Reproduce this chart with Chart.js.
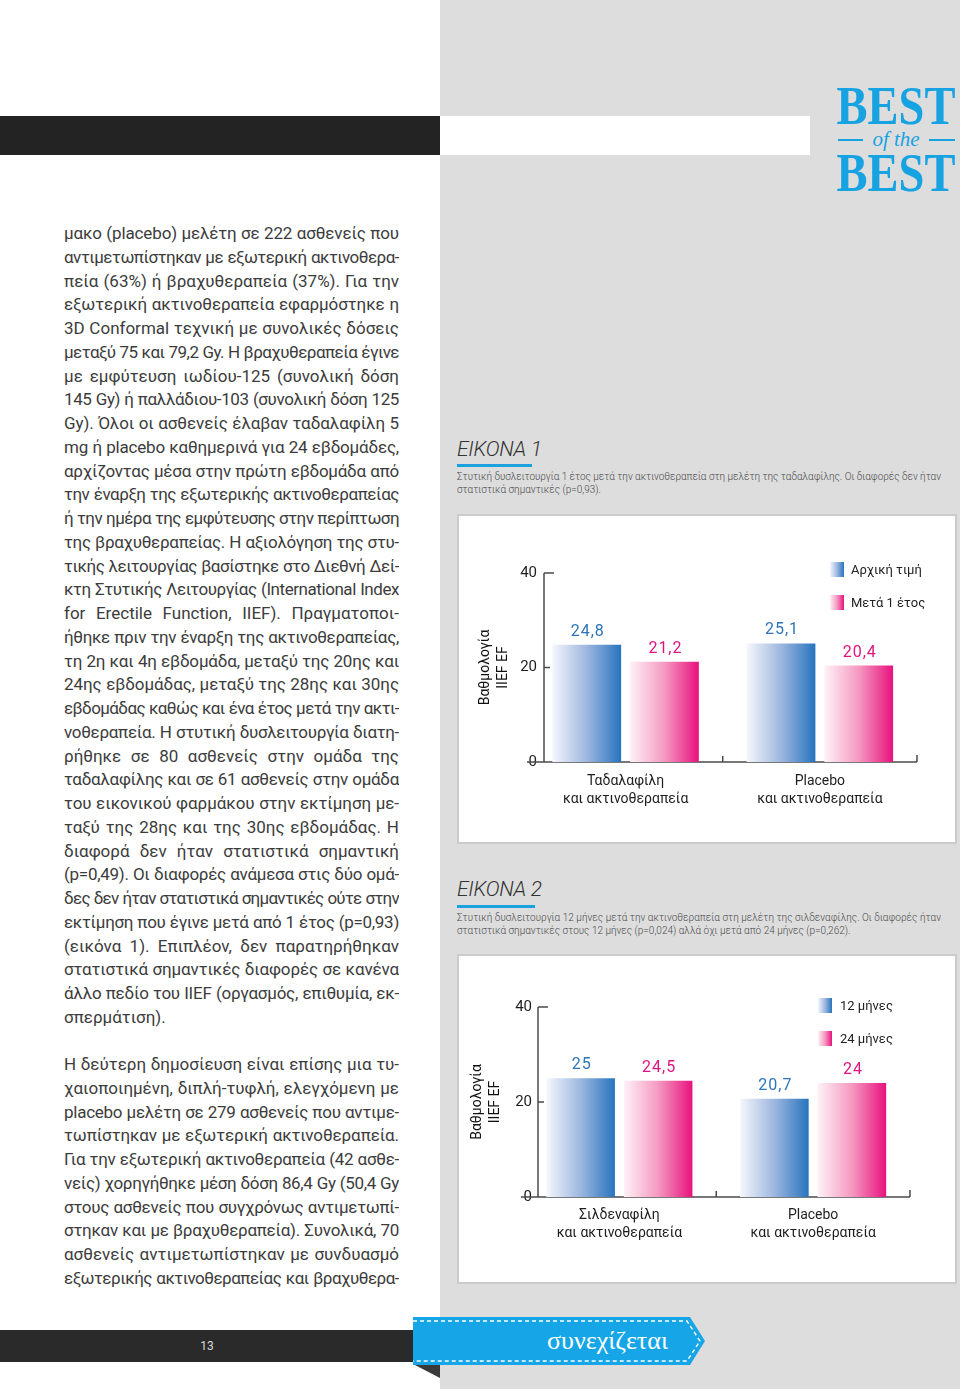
<!DOCTYPE html>
<html lang="el">
<head>
<meta charset="utf-8">
<title>Best of the Best – σελίδα 13</title>
<script src="https://cdn.jsdelivr.net/npm/chart.js@4.4.1/dist/chart.umd.min.js"></script>
<style>
  html, body { margin: 0; padding: 0; }
  body { width: 960px; height: 1389px; position: relative; overflow: hidden; background: #fff;
         font-family: Roboto, "Noto Sans", sans-serif; color: #3c3c3c; }
  .abs { position: absolute; }
  #greyCol { left: 440px; top: 0; width: 520px; height: 1389px; background: #dddddd; }
  #topDark { left: 0; top: 116px; width: 440px; height: 39px; background: #232323; }
  #topWhite { left: 440px; top: 116px; width: 370px; height: 39px; background: #fff; }

  .best { font-family: "Liberation Serif", "DejaVu Serif", serif; font-weight: bold; font-size: 54px;
          line-height: 54px; color: #17a3e2; left: 895.5px; white-space: nowrap;
          transform: translateX(-50%) scaleX(0.86); }
  .ofthe { left: 836px; width: 120px; top: 127px; height: 24px; line-height: 24px; text-align: center;
           font-family: "Liberation Serif", "DejaVu Serif", serif; font-style: italic; font-size: 21px; color: #17a3e2; }
  .rule { height: 2px; background: #17a3e2; top: 139px; }

  .col { left: 64px; width: 335px; font-size: 17px; }
  .ln { height: 23.76px; line-height: 23.76px; text-align: justify; text-align-last: justify; overflow: hidden; }
  .ln.end { text-align-last: left; }

  .figHead { left: 457px; font-size: 21px; font-style: italic; font-weight: 300; color: #333; line-height: 24px; letter-spacing: -0.3px; }
  .figRule { left: 457px; height: 3px; background: #1ba1dd; }
  .caption { left: 457px; width: 495px; font-size: 10px; line-height: 13px; color: #4a4a4a; font-weight: 300; white-space: nowrap; }
  .box { left: 457px; width: 500px; height: 330px; box-sizing: border-box; border: 2px solid #cbcbcb; background: #fff; }
  .box canvas { position: absolute; left: 0; top: 0; }
  .legend { font-size: 13px; color: #222; }
  .legend .item { position: absolute; left: 0; height: 15px; white-space: nowrap; }
  .legend .sw { position: absolute; left: 0; top: 0; width: 14px; height: 15px; }
  .legend .tx { position: absolute; top: 0; line-height: 15px; }

  #footDark { left: 0; top: 1330px; width: 414px; height: 32px; background: #2a2a2a; }
  #pageNo { left: 187px; width: 40px; top: 1330px; height: 32px; line-height: 32px; text-align: center; color: #d8d8d8; font-size: 12px; }
  #ribbon { left: 413px; top: 1315px; }
  #ribbonText { left: 510px; width: 195px; top: 1325px; height: 32px; line-height: 32px; text-align: center;
                color: #fff; font-family: "Liberation Serif", "DejaVu Serif", serif; font-size: 26px; }
</style>
</head>
<body>
<div id="greyCol" class="abs"></div>
<div id="topDark" class="abs"></div>
<div id="topWhite" class="abs"></div>

<div class="abs best" style="top:79px">BEST</div>
<div class="abs rule" style="left:838px;width:25px"></div>
<div class="abs ofthe">of the</div>
<div class="abs rule" style="left:929px;width:26px"></div>
<div class="abs best" style="top:146px">BEST</div>

<div id="para1" class="abs col" style="top:222px"></div>
<div id="para2" class="abs col" style="top:1053px"></div>

<div class="abs figHead" style="top:437px">ΕΙΚΟΝΑ 1</div>
<div class="abs figRule" style="top:464px;width:75px"></div>
<div class="abs caption" style="top:470px">
  <div class="cap1">Στυτική δυσλειτουργία 1 έτος μετά την ακτινοθεραπεία στη μελέτη της ταδαλαφίλης. Οι διαφορές δεν ήταν</div>
  <div>στατιστικά σημαντικές (p=0,93).</div>
</div>
<div class="abs box" style="top:514px"><canvas id="chart1" width="496" height="326"></canvas></div>
<div id="legend1" class="abs legend" style="left:830px;top:562px"></div>

<div class="abs figHead" style="top:877px">ΕΙΚΟΝΑ 2</div>
<div class="abs figRule" style="top:905px;width:78px"></div>
<div class="abs caption" style="top:911px">
  <div class="cap1">Στυτική δυσλειτουργία 12 μήνες μετά την ακτινοθεραπεία στη μελέτη της σιλδεναφίλης. Οι διαφορές ήταν</div>
  <div>στατιστικά σημαντικές στους 12 μήνες (p=0,024) αλλά όχι μετά από 24 μήνες (p=0,262).</div>
</div>
<div class="abs box" style="top:954px"><canvas id="chart2" width="496" height="326"></canvas></div>
<div id="legend2" class="abs legend" style="left:818px;top:998px"></div>

<div id="footDark" class="abs"></div>
<div id="pageNo" class="abs">13</div>
<svg id="ribbon" class="abs" width="300" height="66" viewBox="0 0 300 66">
  <polygon points="0,49 27,49 27,63" fill="#3a3a3a"/>
  <polygon points="0,2 277,2 292,26 277,50 0,50" fill="#16a6e8"/>
  <polyline points="0,6 274,6 287,26 274,46 0,46" fill="none" stroke="#fff" stroke-width="1.4" stroke-dasharray="4 3"/>
</svg>
<div id="ribbonText" class="abs">συνεχίζεται</div>

<script>
// body text, one entry per printed line
const para1Lines = [
  'μακο (placebo) μελέτη σε 222 ασθενείς που',
  'αντιμετωπίστηκαν με εξωτερική ακτινοθερα-',
  'πεία (63%) ή βραχυθεραπεία (37%). Για την',
  'εξωτερική ακτινοθεραπεία εφαρμόστηκε η',
  '3D Conformal τεχνική με συνολικές δόσεις',
  'μεταξύ 75 και 79,2 Gy. Η βραχυθεραπεία έγινε',
  'με εμφύτευση ιωδίου-125 (συνολική δόση',
  '145 Gy) ή παλλάδιου-103 (συνολική δόση 125',
  'Gy). Όλοι οι ασθενείς έλαβαν ταδαλαφίλη 5',
  'mg ή placebo καθημερινά για 24 εβδομάδες,',
  'αρχίζοντας μέσα στην πρώτη εβδομάδα από',
  'την έναρξη της εξωτερικής ακτινοθεραπείας',
  'ή την ημέρα της εμφύτευσης στην περίπτωση',
  'της βραχυθεραπείας. Η αξιολόγηση της στυ-',
  'τικής λειτουργίας βασίστηκε στο Διεθνή Δεί-',
  'κτη Στυτικής Λειτουργίας (International Index',
  'for Erectile Function, IIEF). Πραγματοποι-',
  'ήθηκε πριν την έναρξη της ακτινοθεραπείας,',
  'τη 2η και 4η εβδομάδα, μεταξύ της 20ης και',
  '24ης εβδομάδας, μεταξύ της 28ης και 30ης',
  'εβδομάδας καθώς και ένα έτος μετά την ακτι-',
  'νοθεραπεία. Η στυτική δυσλειτουργία διατη-',
  'ρήθηκε σε 80 ασθενείς στην ομάδα της',
  'ταδαλαφίλης και σε 61 ασθενείς στην ομάδα',
  'του εικονικού φαρμάκου στην εκτίμηση με-',
  'ταξύ της 28ης και της 30ης εβδομάδας. Η',
  'διαφορά δεν ήταν στατιστικά σημαντική',
  '(p=0,49). Οι διαφορές ανάμεσα στις δύο ομά-',
  'δες δεν ήταν στατιστικά σημαντικές ούτε στην',
  'εκτίμηση που έγινε μετά από 1 έτος (p=0,93)',
  '(εικόνα 1). Επιπλέον, δεν παρατηρήθηκαν',
  'στατιστικά σημαντικές διαφορές σε κανένα',
  'άλλο πεδίο του IIEF (οργασμός, επιθυμία, εκ-',
  'σπερμάτιση).'
];
const para2Lines = [
  'Η δεύτερη δημοσίευση είναι επίσης μια τυ-',
  'χαιοποιημένη, διπλή-τυφλή, ελεγχόμενη με',
  'placebo μελέτη σε 279 ασθενείς που αντιμε-',
  'τωπίστηκαν με εξωτερική ακτινοθεραπεία.',
  'Για την εξωτερική ακτινοθεραπεία (42 ασθε-',
  'νείς) χορηγήθηκε μέση δόση 86,4 Gy (50,4 Gy',
  'στους ασθενείς που συγχρόνως αντιμετωπί-',
  'στηκαν και με βραχυθεραπεία). Συνολικά, 70',
  'ασθενείς αντιμετωπίστηκαν με συνδυασμό',
  'εξωτερικής ακτινοθεραπείας και βραχυθερα-'
];

// chart data
const fig1Categories = [['Ταδαλαφίλη', 'και ακτινοθεραπεία'], ['Placebo', 'και ακτινοθεραπεία']];
const fig1SeriesNames = ['Αρχική τιμή', 'Μετά 1 έτος'];
const fig1Baseline = [24.8, 25.1];
const fig1OneYear = [21.2, 20.4];

const fig2Categories = [['Σιλδεναφίλη', 'και ακτινοθεραπεία'], ['Placebo', 'και ακτινοθεραπεία']];
const fig2SeriesNames = ['12 μήνες', '24 μήνες'];
const fig2Month12 = [25, 20.7];
const fig2Month24 = [24.5, 24];

const yTickValues = [0, 20, 40];
const yAxisTitle = ['Βαθμολογία', 'IIEF EF'];

const FONT = 'Roboto, "Noto Sans", sans-serif';
const blueStops = [[0, '#f5f7fc'], [0.5, '#9db7df'], [1, '#2774be']];
const pinkStops = [[0, '#fef2f6'], [0.5, '#f599c1'], [1, '#e8127e']];

function writeLines(id, lines) {
    const box = document.getElementById(id);
    lines.forEach((text, i) => {
        const div = document.createElement('div');
        div.className = 'ln' + (id === 'para1' && i === lines.length - 1 ? ' end' : '');
        div.textContent = text;
        box.appendChild(div);
    });
}

// squeeze letter-spacing on lines that would not fit the column
function fitLines() {
    const probe = document.createElement('span');
    probe.style.cssText = 'position:absolute;visibility:hidden;white-space:nowrap;font-size:17px;left:0;top:0';
    document.body.appendChild(probe);
    document.querySelectorAll('.ln').forEach(ln => {
        probe.textContent = ln.textContent;
        const w = probe.getBoundingClientRect().width;
        if (w > 333) {
            ln.style.letterSpacing = (-(w - 333) / ln.textContent.length) + 'px';
        }
    });
    document.querySelectorAll('.cap1').forEach(cap => {
        probe.style.fontSize = '10px';
        probe.style.fontWeight = '300';
        probe.textContent = cap.textContent;
        const w = probe.getBoundingClientRect().width;
        cap.style.letterSpacing = ((484 - w) / cap.textContent.length) + 'px';
    });
    probe.remove();
}

function barFill(stops) {
    return (c) => {
        const el = c.element;
        if (!el || !Number.isFinite(el.x) || !el.width) return stops[stops.length - 1][1];
        const g = c.chart.ctx.createLinearGradient(el.x - el.width / 2, 0, el.x + el.width / 2, 0);
        stops.forEach(([o, col]) => g.addColorStop(o, col));
        return g;
    };
}

const axisDecor = {
    id: 'axisDecor',
    beforeDatasetsDraw(chart) {
        const { ctx, chartArea: a, scales: { x, y } } = chart;
        const y0 = y.getPixelForValue(0);
        const line = (x1, y1, x2, y2) => { ctx.beginPath(); ctx.moveTo(x1, y1); ctx.lineTo(x2, y2); ctx.stroke(); };
        ctx.save();
        ctx.strokeStyle = '#4a4a4a';
        ctx.lineWidth = 1.5;
        line(a.left, y.getPixelForValue(y.max), a.left, y0);
        y.ticks.forEach(t => {
            if (t.value === 0) return;
            const py = y.getPixelForValue(t.value);
            line(a.left, py, a.left + (t.value === y.max ? 10 : 6), py);
        });
        line(a.left - 17, y0, a.right, y0);
        for (let i = 0; i < x.ticks.length - 1; i++) {
            const px = x.getPixelForValue((x.ticks[i].value + x.ticks[i + 1].value) / 2);
            line(px, y0, px, y0 - 6);
        }
        line(a.right, y0, a.right, y0 - 7);
        ctx.restore();
    }
};

const valueLabels = {
    id: 'valueLabels',
    afterDatasetsDraw(chart) {
        const { ctx } = chart;
        ctx.save();
        ctx.font = '16px ' + FONT;
        ctx.textAlign = 'center';
        ctx.textBaseline = 'middle';
        ctx.letterSpacing = '1px';
        chart.data.datasets.forEach((ds, di) => {
            ctx.fillStyle = ds.valueColor;
            chart.getDatasetMeta(di).data.forEach((bar, i) => {
                const text = String(ds.data[i].y).replace('.', ',');
                ctx.fillText(text, bar.x + 1, bar.y - 13);
            });
        });
        ctx.restore();
    }
};

function buildLegend(id, chart) {
    const box = document.getElementById(id);
    chart.data.datasets.forEach((ds, i) => {
        const item = document.createElement('div');
        item.className = 'item';
        item.style.top = (i * 33) + 'px';
        const stops = ds.stops.map(([o, col]) => col + ' ' + (o * 100) + '%').join(', ');
        item.innerHTML = `<span class="sw" style="background:linear-gradient(to right, ${stops})"></span>` +
                         `<span class="tx" style="left:${ds.legendGap}px">${ds.label}</span>`;
        box.appendChild(item);
    });
}

function makeChart(canvasId, categories, names, seriesA, seriesB, L) {
    const toPoints = (arr) => arr.map((v, i) => ({ x: i, y: v }));
    const common = { categoryPercentage: 0.8, barPercentage: 0.885, legendGap: L.legendGap };
    const chart = new Chart(document.getElementById(canvasId), {
        type: 'bar',
        data: {
            datasets: [
                Object.assign({ label: names[0], data: toPoints(seriesA), backgroundColor: barFill(blueStops),
                                stops: blueStops, valueColor: '#2d74b9' }, common),
                Object.assign({ label: names[1], data: toPoints(seriesB), backgroundColor: barFill(pinkStops),
                                stops: pinkStops, valueColor: '#e0147e' }, common)
            ]
        },
        options: {
            responsive: false,
            animation: false,
            layout: { padding: { left: 0, right: L.right, top: L.top, bottom: 0 } },
            plugins: { legend: { display: false }, tooltip: { enabled: false } },
            scales: {
                x: {
                    type: 'linear',
                    offset: false,
                    min: -0.42,
                    max: 1.5,
                    grid: { display: false, drawTicks: false, offset: false },
                    border: { display: false },
                    afterBuildTicks: (s) => { s.ticks = categories.map((c, i) => ({ value: i })); },
                    afterFit: (s) => { s.height = L.xHeight; },
                    ticks: {
                        autoSkip: false,
                        maxRotation: 0,
                        padding: L.xPad,
                        color: '#1e1e1e',
                        font: { family: FONT, size: 14, lineHeight: 1.29 },
                        callback: (v) => categories[v]
                    }
                },
                y: {
                    min: 0,
                    max: 40,
                    grid: { display: false, drawTicks: false },
                    border: { display: false },
                    afterBuildTicks: (s) => { s.ticks = yTickValues.map(v => ({ value: v })); },
                    afterFit: (s) => { s.width = L.yWidth; },
                    ticks: { padding: L.yPad, color: '#1e1e1e', font: { family: FONT, size: 15 } },
                    title: {
                        display: true,
                        text: yAxisTitle,
                        color: '#111',
                        font: { family: FONT, size: 14, lineHeight: 1.29 },
                        padding: { top: L.titlePad, bottom: 0 }
                    }
                }
            }
        },
        plugins: [axisDecor, valueLabels]
    });
    chart.update('none');
    return chart;
}

document.addEventListener('DOMContentLoaded', function() {
    writeLines('para1', para1Lines);
    writeLines('para2', para2Lines);
    fitLines();

    const chart1 = makeChart('chart1', fig1Categories, fig1SeriesNames, fig1Baseline, fig1OneYear,
        { right: 38, top: 57, xHeight: 80, yWidth: 85, xPad: 10, yPad: 7, titlePad: 17, legendGap: 21 });
    const chart2 = makeChart('chart2', fig2Categories, fig2SeriesNames, fig2Month12, fig2Month24,
        { right: 45, top: 51, xHeight: 85, yWidth: 79, xPad: 9, yPad: 6, titlePad: 9, legendGap: 22 });

    buildLegend('legend1', chart1);
    buildLegend('legend2', chart2);
});
</script>
</body>
</html>
